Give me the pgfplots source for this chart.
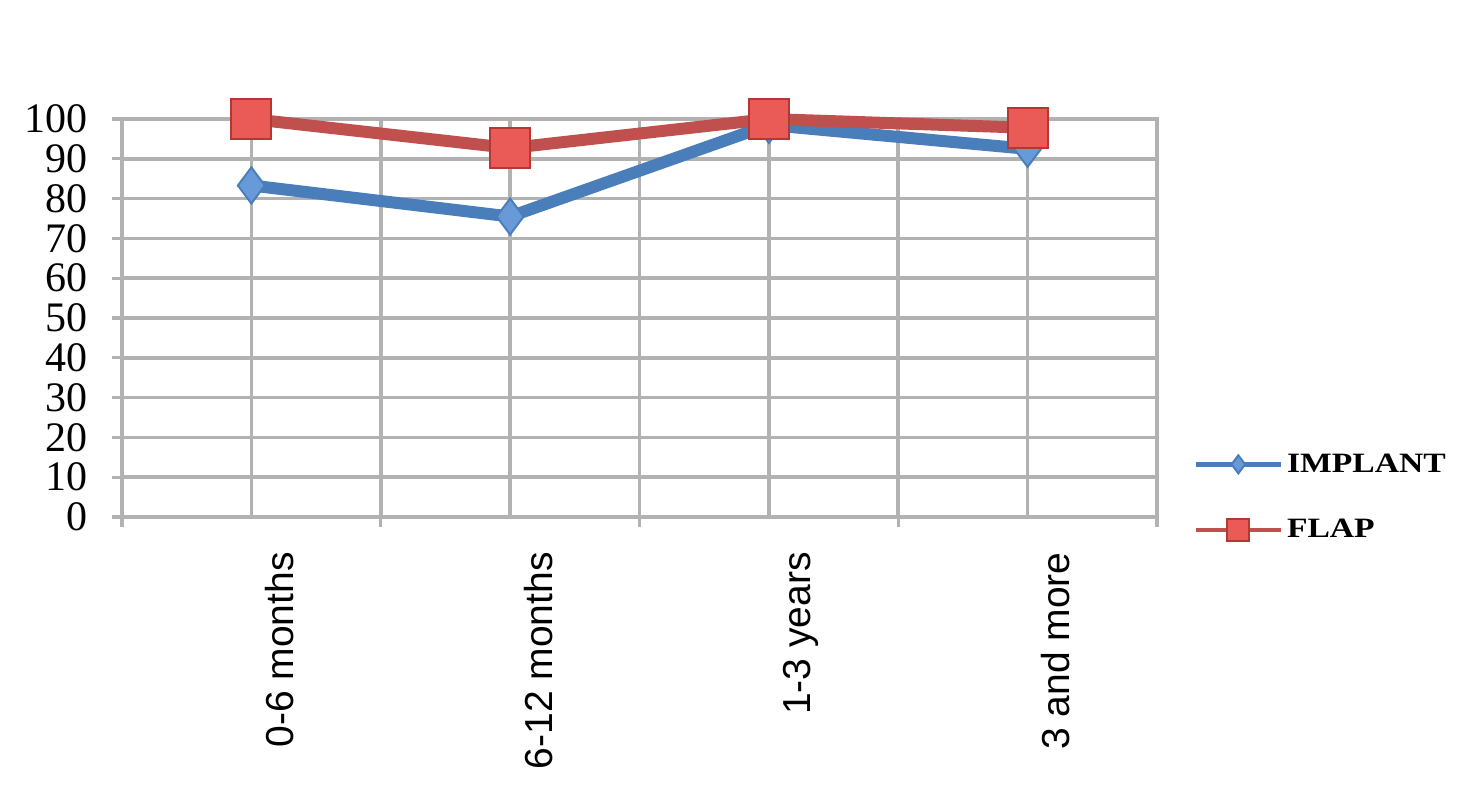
\documentclass[border=0pt]{standalone}
\usepackage{pgfplots}
\pgfplotsset{compat=1.18}
\usepackage{fontspec}
\setmainfont{Liberation Serif}
\newfontfamily\sans{Liberation Sans}
\definecolor{gridgray}{RGB}{178,178,178}
\definecolor{implline}{RGB}{74,126,187}
\definecolor{implfill}{RGB}{104,154,218}
\definecolor{flapline}{RGB}{192,80,77}
\definecolor{flapfill}{RGB}{234,90,86}
\definecolor{flapedge}{RGB}{180,55,52}
\begin{document}
\begin{tikzpicture}
\useasboundingbox (-61pt,-141.5pt) rectangle (676.5pt,258.5pt);
\begin{axis}[
  at={(0,0)}, anchor=south west,
  scale only axis, width=517.5pt, height=199pt,
  xmin=-0.5, xmax=3.5, ymin=0, ymax=100,
  clip=false,
  tick pos=left,
  xtick={-0.5,0.5,1.5,2.5,3.5},
  xticklabels={},
  extra x ticks={0,1,2,3},
  extra x tick labels={0-6 months,6-12 months,1-3 years,3 and more},
  extra x tick style={grid=major, major tick length=0pt,
    xticklabel style={xshift=21pt, yshift=-17.5pt, rotate=90, anchor=base east, inner sep=0pt,
      font=\sans\fontsize{19.5}{19.5}\selectfont}},
  ytick={0,10,...,100},
  xmajorgrids, ymajorgrids,
  grid style={gridgray, line width=1.8pt},
  axis line style={gridgray, line width=1.8pt},
  tick style={gridgray, line width=1.6pt},
  tick align=outside,
  major tick length=5pt,
  yticklabel style={font=\fontsize{21}{21}\selectfont, inner sep=0pt, xshift=-12pt},
  /pgf/number format/assume math mode=true,
  legend style={at={(1.035,0.05)}, anchor=west, draw=none, fill=none, inner sep=0pt,
    row sep=18pt, nodes={inner sep=2pt}, font=\bfseries\fontsize{14}{14}\selectfont},
  legend cell align=left,
]
\addplot[implline, line width=6pt, mark=diamond*, mark size=9pt,
  mark options={fill=implfill, draw=implline, line width=1pt},
  legend image code/.code={
    \draw[line width=2.2pt, mark=none] (0pt,0pt) -- (42.5pt,0pt);
    \draw[mark size=4.5pt, line width=0.8pt] plot coordinates {(21.25pt,0pt)};
  }] coordinates {(0,83.3) (1,75.5) (2,98.5) (3,92.5)};
\addlegendentry{\scalebox{1.2}[1]{IMPLANT}}
\addplot[flapline, line width=6pt, mark=square*, mark size=10pt,
  mark options={fill=flapfill, draw=flapedge, line width=1pt},
  legend image code/.code={
    \draw[line width=2.2pt, mark=none] (0pt,0pt) -- (42.5pt,0pt);
    \draw[mark size=5.5pt, line width=0.8pt] plot coordinates {(21.25pt,0pt)};
  }] coordinates {(0,100) (1,92.7) (2,100) (3,97.8)};
\addlegendentry{\scalebox{1.2}[1]{FLAP}}
\end{axis}
\end{tikzpicture}
\end{document}
